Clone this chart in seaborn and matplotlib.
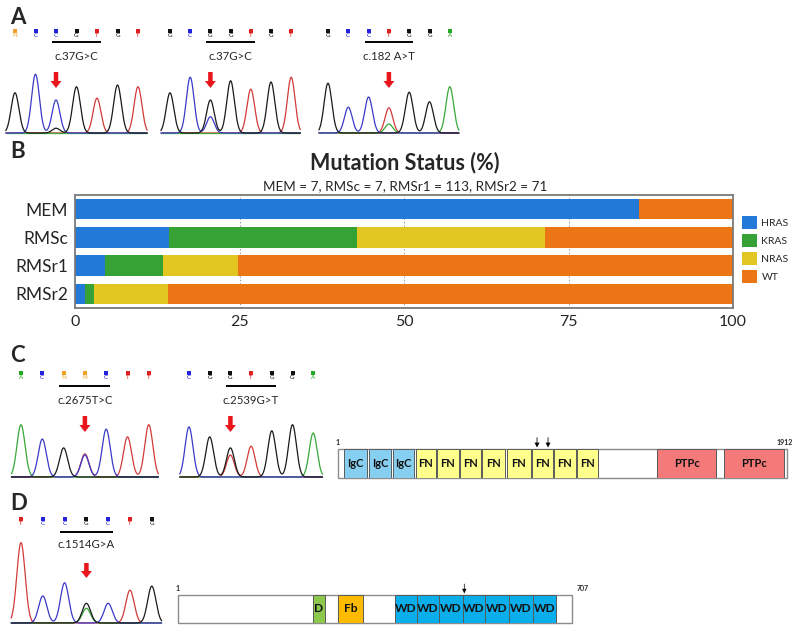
import numpy as np
import pandas as pd
import matplotlib
matplotlib.use("Agg")
import matplotlib.pyplot as plt
import seaborn as sns
from matplotlib.patches import Patch, Rectangle, FancyArrow

# ---------------- Panel B data ----------------
groups = ["MEM", "RMSc", "RMSr1", "RMSr2"]
group_n = [7, 7, 113, 71]
genes = ["HRAS", "KRAS", "NRAS", "WT"]
hras_pct = [85.7, 14.3, 4.5, 1.5]
kras_pct = [0.0, 28.6, 8.8, 1.4]
nras_pct = [0.0, 28.6, 11.4, 11.3]
wt_pct = [14.3, 28.5, 75.3, 85.8]
x_ticks = [0, 25, 50, 75, 100]
gene_colors = ["#2279d8", "#36a236", "#e2c722", "#ec7616"]

# ---------------- Chromatogram data (A, C, D) ----------------
a1_calls = "NCCGTGT"
a1_peaks = "GCCGTGT"
a1_heights = [0.67, 0.98, 0.55, 0.77, 0.58, 0.80, 0.77]
a1_minor = ("G", 2, 0.08)
a1_label = "c.37G>C"

a2_calls = "GCGGTGT"
a2_peaks = "GCGGTGT"
a2_heights = [0.67, 0.93, 0.55, 0.87, 0.73, 0.85, 0.93]
a2_minor = ("C", 2, 0.27)
a2_label = "c.37G>C"

a3_calls = "GCCTGGA"
a3_peaks = "GCCTGGA"
a3_heights = [0.83, 0.43, 0.60, 0.42, 0.68, 0.52, 0.77]
a3_minor = ("A", 3, 0.15)
a3_label = "c.182 A>T"

c1_calls = "ACNNCTT"
c1_peaks = "ACGTCTT"
c1_heights = [0.95, 0.69, 0.53, 0.42, 0.87, 0.73, 0.95]
c1_minor = ("C", 3, 0.40)
c1_label = "c.2675T>C"

c2_calls = "CGGTGGA"
c2_peaks = "CGGTGGA"
c2_heights = [0.91, 0.73, 0.53, 0.56, 0.84, 0.95, 0.80]
c2_minor = ("T", 2, 0.40)
c2_label = "c.2539G>T"

d1_calls = "TCCGCTG"
d1_peaks = "TCCGCTG"
d1_heights = [0.98, 0.33, 0.49, 0.24, 0.24, 0.40, 0.45]
d1_minor = ("A", 3, 0.18)
d1_label = "c.1514G>A"

# ---------------- Domain data ----------------
ptprd_length = 1912
ptprd_labels = ["IgC", "IgC", "IgC", "FN", "FN", "FN", "FN", "FN", "FN", "FN", "FN", "PTPc", "PTPc"]
ptprd_starts = [27, 133, 235, 333, 422, 520, 614, 720, 827, 920, 1018, 1359, 1644]
ptprd_ends = [124, 227, 324, 418, 516, 610, 712, 822, 916, 1014, 1108, 1610, 1899]
ptprd_mutations = [848, 895]

fbxw7_length = 707
fbxw7_labels = ["D", "Fb", "WD", "WD", "WD", "WD", "WD", "WD", "WD"]
fbxw7_starts = [243, 288, 390, 429, 469, 512, 551, 594, 637]
fbxw7_ends = [264, 333, 429, 469, 512, 551, 594, 637, 678]
fbxw7_mutations = [514]

domain_colors = {"IgC": "#86cff0", "FN": "#ffff8c", "PTPc": "#f47a7a",
                 "D": "#8cc84b", "Fb": "#ffbb00", "WD": "#0aaeea"}

# ---------------- Figure ----------------
sns.set_style("white")
plt.rcParams["font.family"] = ["Lato", "DejaVu Sans"]

W, H = 800, 631
fig = plt.figure(figsize=(W / 100, H / 100), dpi=100)


def rect(x0, y0, x1, y1):
    return [x0 / W, 1 - y1 / H, (x1 - x0) / W, (y1 - y0) / H]


ov = fig.add_axes([0, 0, 1, 1])
ov.set_xlim(0, W)
ov.set_ylim(H, 0)
ov.axis("off")

for letter, (lx, ly) in zip("ABCD", [(10, 17), (10, 152), (10, 355), (10, 503)]):
    ov.text(lx, ly, letter, fontsize=16, fontweight="bold", ha="left", va="center")

CALL_COL = {"A": "#22a822", "C": "#2424d8", "G": "#111111", "T": "#dd2020", "N": "#f0a020"}
TRACE_COL = {"A": "#38a838", "C": "#3a3ac8", "G": "#1a1a1a", "T": "#d23a3a"}
SIG = 0.19


def chromatogram(calls, peaks, heights, minor, label, first_x, spacing, baseline,
                 scale, ys, codon=(2, 4), mut_idx=2):
    n = len(calls)
    lo, hi = -0.45, n - 1 + 0.45
    ax = fig.add_axes(rect(first_x + lo * spacing, baseline - scale,
                           first_x + hi * spacing, baseline))
    ax.set_xlim(lo, hi)
    ax.set_ylim(0, 1)
    ax.axis("off")
    xs = np.linspace(lo, hi, 600)
    for b in "TACG":
        y = np.zeros_like(xs)
        for i, (pb, h) in enumerate(zip(peaks, heights)):
            if pb == b:
                y += h * np.exp(-0.5 * ((xs - i) / SIG) ** 2)
        if minor[0] == b:
            y += minor[2] * np.exp(-0.5 * ((xs - minor[1]) / SIG) ** 2)
        ax.plot(xs, y, color=TRACE_COL[b], lw=0.9, clip_on=False)
    marker_y, letter_y, under_y, label_y, arr_top, arr_bot = ys
    px = [first_x + i * spacing for i in range(n)]
    for x, c in zip(px, calls):
        ov.plot([x], [marker_y], marker="s", ms=2.6, color=CALL_COL[c], mew=0)
        ov.text(x, letter_y, c, fontsize=4.5, color=CALL_COL[c],
                ha="center", va="top")
    ov.plot([px[codon[0]] - 0.2 * spacing, px[codon[1]] + 0.2 * spacing],
            [under_y, under_y], color="black", lw=1.4, solid_capstyle="butt")
    ov.text(px[(codon[0] + codon[1]) // 2], label_y, label, fontsize=8.2,
            ha="center", va="center")
    ov.add_patch(FancyArrow(px[mut_idx], arr_top, 0, arr_bot - arr_top, width=4.5,
                            head_width=11, head_length=7, length_includes_head=True,
                            color="#e8161b", lw=0))


ysA = (31, 33, 42, 57, 72, 88)
chromatogram(a1_calls, a1_peaks, a1_heights, a1_minor, a1_label, 15, 20.5, 133, 60, ysA, mut_idx=2)
chromatogram(a2_calls, a2_peaks, a2_heights, a2_minor, a2_label, 170, 20.2, 133, 60, ysA, mut_idx=2)
chromatogram(a3_calls, a3_peaks, a3_heights, a3_minor, a3_label, 328, 20.3, 133, 60, ysA, mut_idx=3)
ysC = (373, 375, 386, 400, 416, 432)
chromatogram(c1_calls, c1_peaks, c1_heights, c1_minor, c1_label, 21, 21.3, 477, 55, ysC, mut_idx=3)
chromatogram(c2_calls, c2_peaks, c2_heights, c2_minor, c2_label, 189, 20.7, 477, 55, ysC, mut_idx=2)
ysD = (519, 521, 532, 545, 563, 578)
chromatogram(d1_calls, d1_peaks, d1_heights, d1_minor, d1_label, 21, 21.8, 623, 82, ysD, mut_idx=3)

# ---------------- Panel B: stacked bars ----------------
axb = fig.add_axes(rect(75, 195, 733, 308))
df = pd.DataFrame({"group": groups, "HRAS": hras_pct, "KRAS": kras_pct,
                   "NRAS": nras_pct, "WT": wt_pct})
cum = df[genes].cumsum(axis=1)
cum["group"] = groups
for gene, col in reversed(list(zip(genes, gene_colors))):
    sns.barplot(data=cum, x=gene, y="group", order=groups, orient="h", color=col,
                saturation=1, width=0.72, ax=axb, edgecolor="none", linewidth=0)
axb.set_xlim(0, 100)
axb.set_ylim(3.5, -0.5)
axb.set_xlabel("")
axb.set_ylabel("")
axb.set_xticks(x_ticks)
axb.set_xticklabels([str(t) for t in x_ticks])
for t in x_ticks[1:-1]:
    axb.axvline(t, color="#9a9a9a", lw=0.7, ls=(0, (1.5, 2)), zorder=0)
axb.tick_params(axis="y", length=0, pad=5, labelsize=12.5)
axb.tick_params(axis="x", length=0, pad=5, labelsize=11.5)
for s in axb.spines.values():
    s.set_visible(True)
    s.set_color("#7a7a7a")
    s.set_linewidth(1.3)

fig.text(405 / W, 1 - 163 / H, "Mutation Status (%)", fontsize=15.5, fontweight="bold",
         ha="center", va="center")
fig.text(405 / W, 1 - 186 / H,
         ", ".join(f"{g} = {n}" for g, n in zip(groups, group_n)),
         fontsize=9.7, ha="center", va="center")

handles = [Patch(facecolor=c, edgecolor="none") for c in gene_colors]
fig.legend(handles, genes, loc="upper left", bbox_to_anchor=(738 / W, 1 - 212 / H),
           frameon=False, fontsize=7.5, handlelength=1.45, handleheight=1.45,
           labelspacing=0.55, handletextpad=0.4, borderaxespad=0)


# ---------------- Domain diagrams ----------------
def domains(box, length, labels, starts, ends, muts, fs, end_label_x):
    ax = fig.add_axes(rect(*box))
    ax.set_xlim(1, length)
    ax.set_ylim(0, 1)
    ax.axis("off")
    ax.add_patch(Rectangle((1, 0), length - 1, 1, facecolor="white",
                           edgecolor="#8c8c8c", lw=1.0, clip_on=False))
    ax.barh(y=0.5, width=np.subtract(ends, starts), left=starts, height=1.0,
            color=[domain_colors[l] for l in labels], edgecolor="#5a5a5a", lw=0.7)
    for s, e, l in zip(starts, ends, labels):
        ax.text((s + e) / 2, 0.5, l, fontsize=fs, fontweight="bold", ha="center",
                va="center", color="#111111")
    ax.text(1, 1.12, "1", fontsize=5, fontweight="bold", ha="center", va="bottom")
    ax.text(end_label_x, 1.12, str(length), fontsize=5, fontweight="bold",
            ha="center", va="bottom", transform=ax.transData)
    for m in muts:
        ax.add_patch(FancyArrow(m, 1.4, 0, -0.35, width=length * 0.0018,
                                head_width=length * 0.011, head_length=0.17,
                                length_includes_head=True, color="black", lw=0,
                                clip_on=False))
    return ax


domains((338, 449, 787, 478), ptprd_length, ptprd_labels, ptprd_starts, ptprd_ends,
        ptprd_mutations, 8, ptprd_length - 10)
domains((178, 595, 572, 623), fbxw7_length, fbxw7_labels, fbxw7_starts, fbxw7_ends,
        fbxw7_mutations, 8.6, fbxw7_length + 20)

fig.savefig("out.png", dpi=100)
